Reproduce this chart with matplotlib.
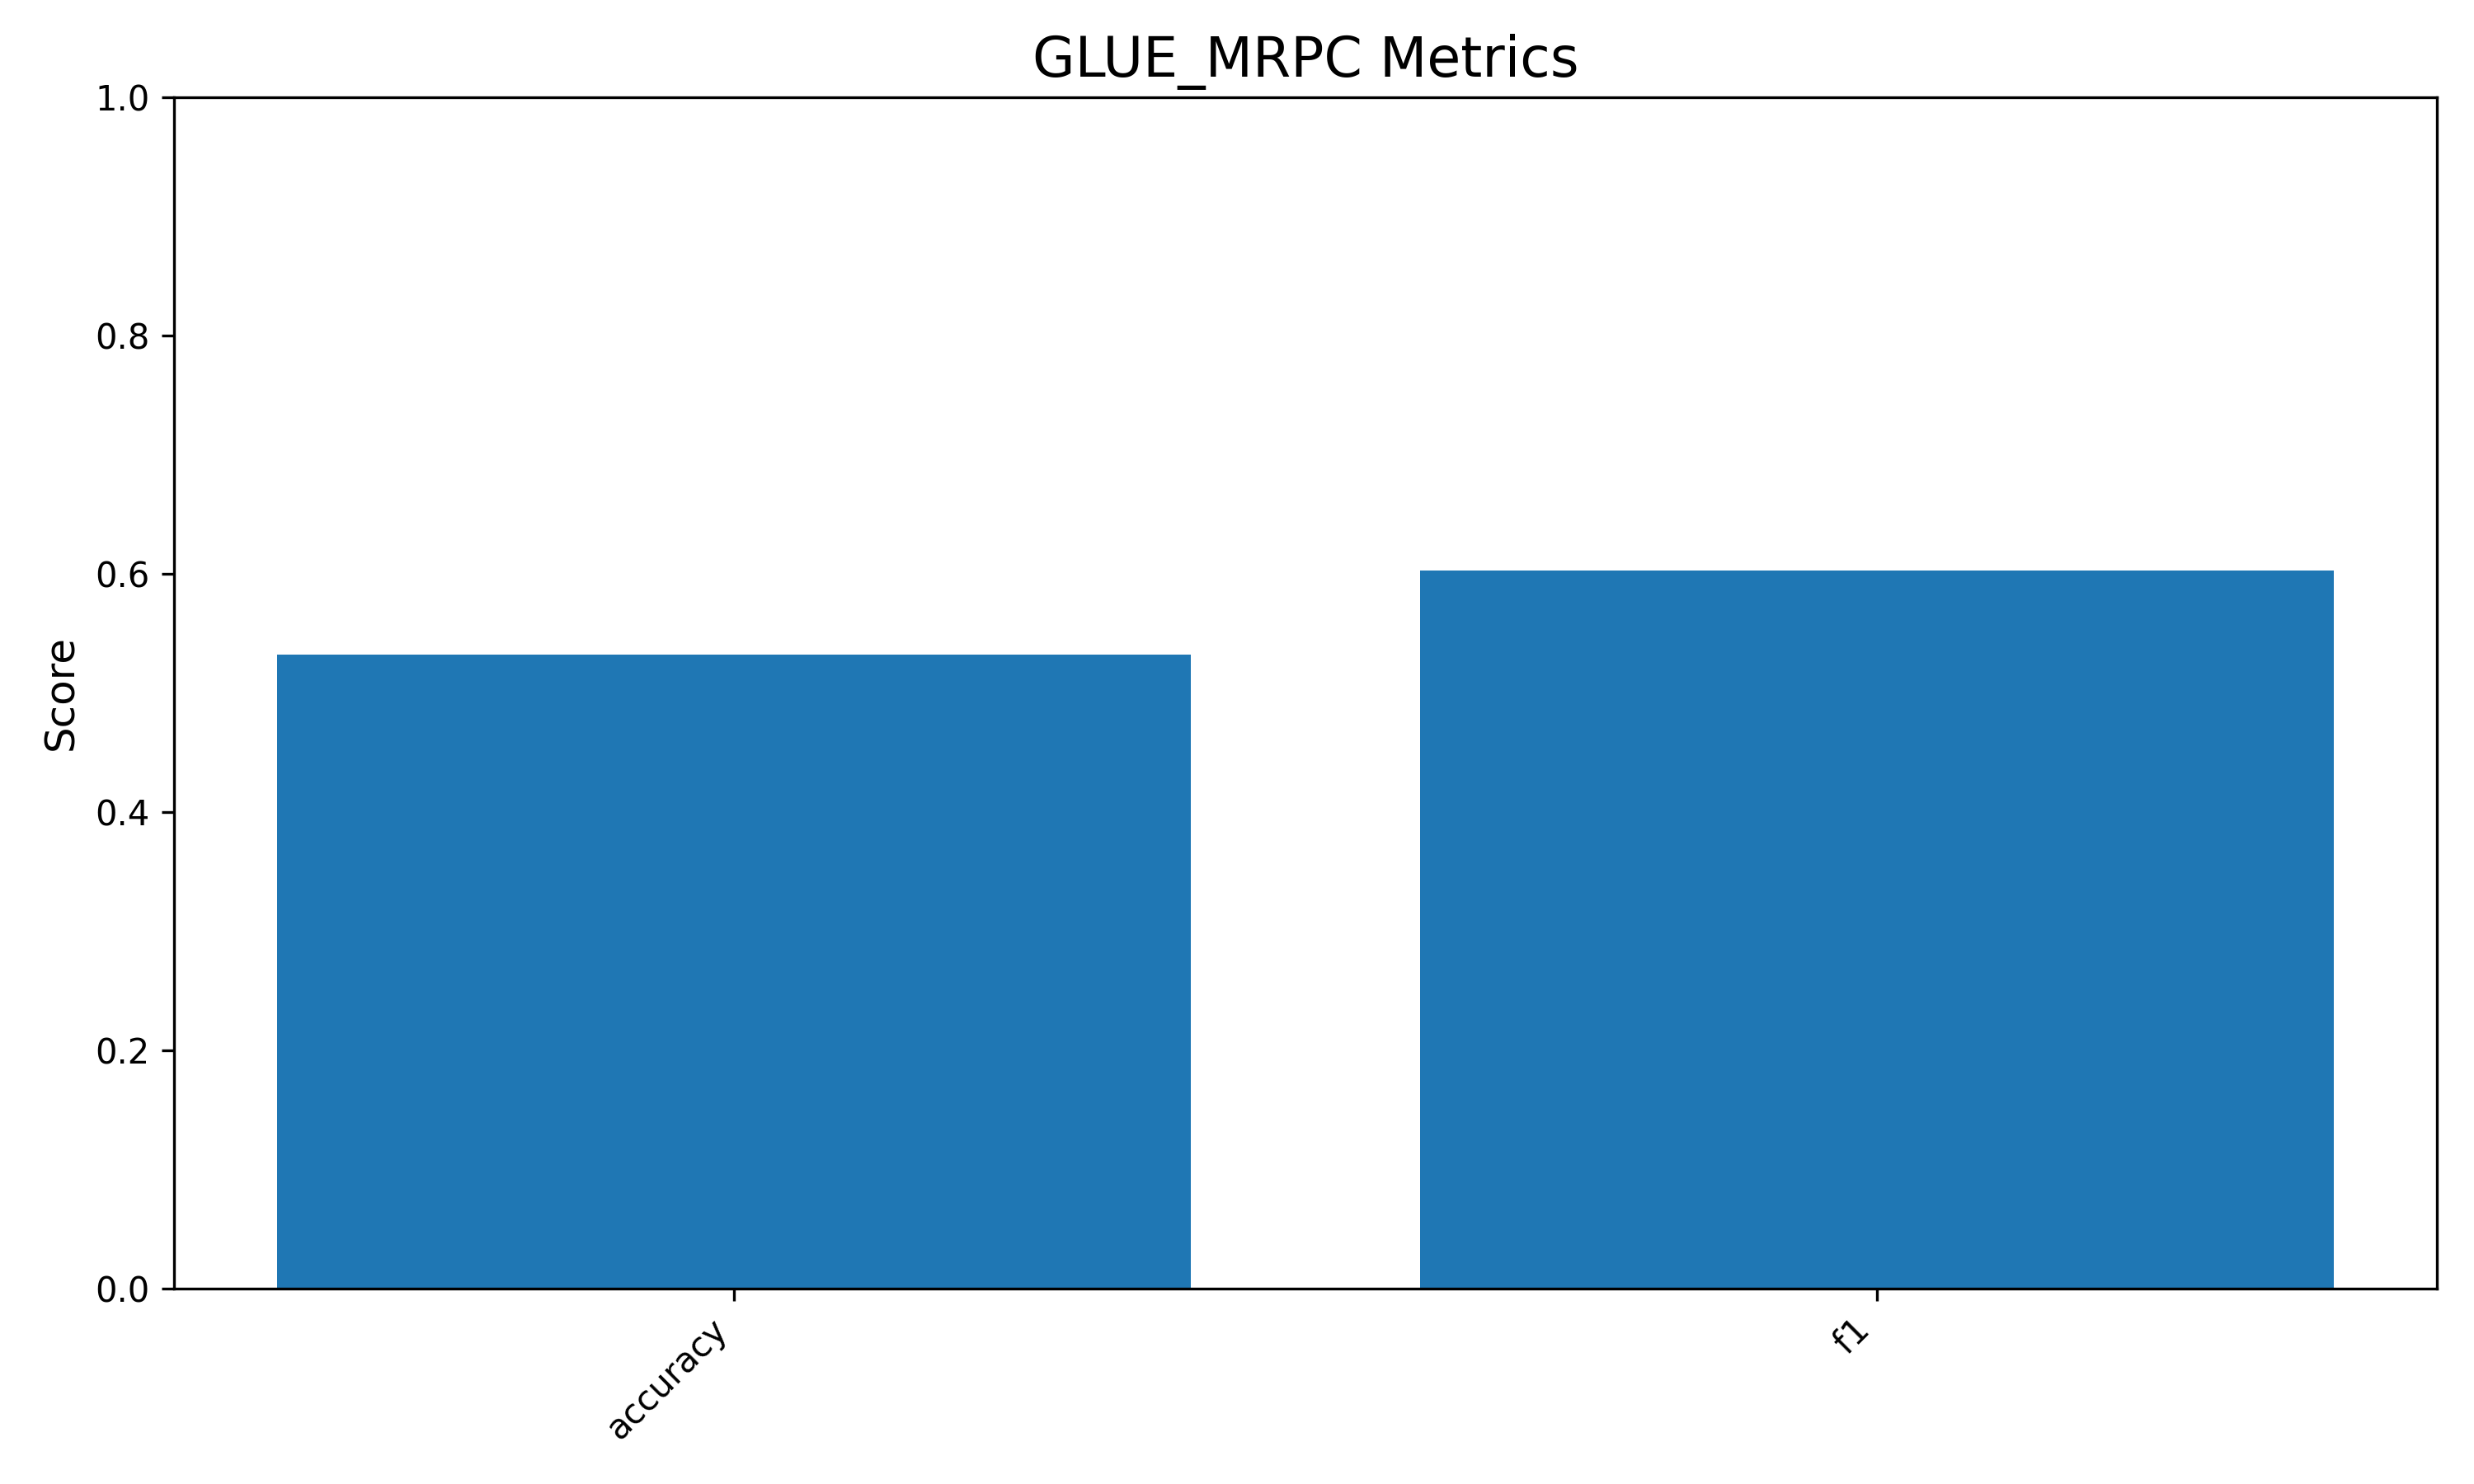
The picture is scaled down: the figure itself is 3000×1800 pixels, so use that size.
import matplotlib.pyplot as plt

metrics = ['accuracy', 'f1']
scores = [0.5322, 0.6028]

plt.figure(figsize=(10, 6))
plt.bar(metrics, scores)
plt.ylim(0, 1)
plt.ylabel('Score', fontsize=12)
plt.title('GLUE_MRPC Metrics', fontsize=16)
plt.xticks(rotation=45, ha='right')
plt.tight_layout()

plt.savefig('out.png', dpi=300)
